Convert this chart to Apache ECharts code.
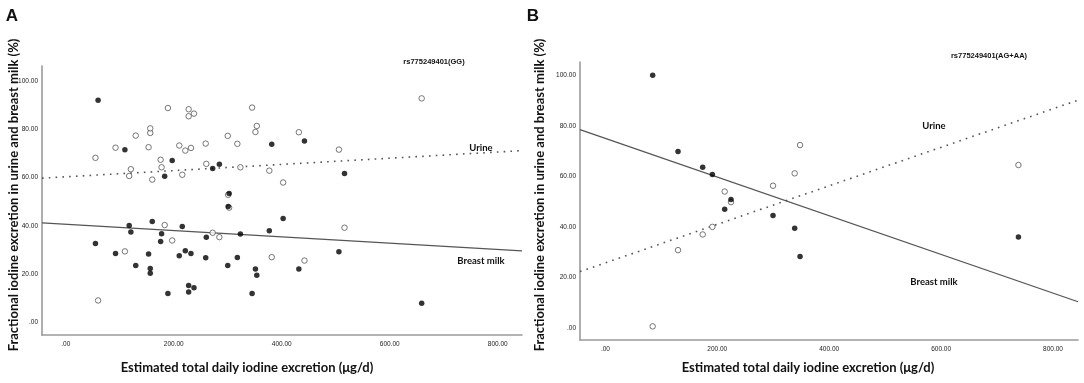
<!DOCTYPE html>
<html>
<head>
<meta charset="utf-8">
<script src="https://cdn.jsdelivr.net/npm/echarts@6/dist/echarts.min.js"></script>
<style>
  html, body { margin: 0; padding: 0; background: #fff; }
  #chart { width: 1084px; height: 383px; }
</style>
</head>
<body>
<div id="chart"></div>
<script>
// rs775249401(GG): one subject per index, same excretion for urine and milk
var ggExcretion = [55, 59.9, 92.2, 109.5, 117.5, 120.6, 129.6, 153.4, 156.5, 156.5,
  160.2, 175.7, 177.5, 183.2, 189.2, 197.1, 210.2, 215.8, 221.4, 227.6,
  227.6, 231.9, 237.5, 259.2, 260.3, 272.1, 284.5, 300, 300.8, 302.6,
  317.8, 323.4, 345.1, 351.3, 353.8, 377, 381.5, 402.6, 431.7, 442.1,
  505.9, 516.3, 659.2]
var ggMilk = [32.8, 92, 28.6, 71.5, 40.2, 37.5, 23.7, 28.4, 22.4, 20.5,
  41.9, 33.6, 36.8, 60.6, 12.1, 67.1, 27.7, 39.8, 29.8, 15.4,
  12.7, 28.6, 14.5, 26.9, 35.3, 63.8, 65.6, 23.7, 48.1, 53.4,
  27, 36.7, 12.1, 22.2, 19.6, 38, 73.8, 43.1, 22.2, 75.2,
  29.3, 61.7, 8]
var ggUrine = [68.2, 9.2, 72.4, 29.5, 60.7, 63.5, 77.4, 72.6, 78.5, 80.4,
  59.2, 67.4, 64.3, 40.4, 88.8, 34, 73.3, 61.2, 71.2, 85.4,
  88.3, 72.3, 86.5, 74.1, 65.7, 37.2, 35.4, 77.3, 52.9, 47.6,
  74, 64.3, 89, 78.9, 81.4, 62.9, 27.1, 58, 78.8, 25.7,
  71.6, 39.3, 92.8]

// rs775249401(AG+AA)
var agExcretion = [84.5, 129.8, 173.9, 191.2, 213.2, 224.5, 299.6, 338.3, 347.9, 738.2]
var agMilk = [100.1, 69.9, 63.6, 60.7, 47, 50.8, 44.5, 39.5, 28.3, 36]
var agUrine = [0.6, 30.8, 37, 40, 54, 49.8, 56.3, 61.2, 72.4, 64.5]

var xTicks = [0, 200, 400, 600, 800]
var yTicks = [0, 20, 40, 60, 80, 100]

var xTitle = 'Estimated total daily iodine excretion (μg/d)'
var yTitle = 'Fractional iodine excretion in urine and breast milk (%)'

var titleFont = 'Lato, "Open Sans", sans-serif'
var tickFont = '"Liberation Sans", Arial, sans-serif'

function pairs(xs, ys) {
  return xs.map(function(x, i) { return [x, ys[i]] })
}

// least squares fit line drawn across the whole x range
function fitLine(xs, ys, lo, hi) {
  var n = xs.length
  var mx = xs.reduce(function(a, b) { return a + b }, 0) / n
  var my = ys.reduce(function(a, b) { return a + b }, 0) / n
  var sxy = 0
  var sxx = 0
  for (var i = 0; i < n; i++) {
    sxy += (xs[i] - mx) * (ys[i] - my)
    sxx += (xs[i] - mx) * (xs[i] - mx)
  }
  var slope = sxy / sxx
  var b = my - slope * mx
  return [[lo, b + slope * lo], [hi, b + slope * hi]]
}

function fmt(v) {
  return v === 0 ? '.00' : v.toFixed(2)
}

var axisLine = { show: true, onZero: false, lineStyle: { color: '#9a9a9a', width: 1.6 } }

function xAxis(grid, min, max) {
  return {
    type: 'value', gridIndex: grid, min: min, max: max,
    axisLine: axisLine,
    axisTick: { show: false },
    splitLine: { show: false },
    axisLabel: {
      customValues: xTicks, formatter: fmt, margin: 6,
      fontFamily: tickFont, fontSize: 6.5, color: '#222'
    }
  }
}

function yAxis(grid, min, max) {
  return {
    type: 'value', gridIndex: grid, min: min, max: max,
    axisLine: axisLine,
    axisTick: { show: false },
    splitLine: { show: false },
    axisLabel: {
      customValues: yTicks, formatter: fmt, margin: 4,
      fontFamily: tickFont, fontSize: 6.5, color: '#222'
    }
  }
}

var openDot = { color: '#fff', borderColor: '#555', borderWidth: 1 }
var fullDot = { color: '#000' }

function scatter(idx, xs, ys, style, z) {
  return {
    type: 'scatter', xAxisIndex: idx, yAxisIndex: idx,
    data: pairs(xs, ys), symbol: 'circle', symbolSize: 5.5,
    itemStyle: style, z: z
  }
}

function line(idx, xs, ys, lo, hi, dotted) {
  return {
    type: 'line', xAxisIndex: idx, yAxisIndex: idx,
    data: fitLine(xs, ys, lo, hi), showSymbol: false, z: 1,
    lineStyle: dotted
      ? { color: '#555', width: 1.6, type: [1.6, 5.2] }
      : { color: '#555', width: 1.3 }
  }
}

function text(x, y, str, size, weight, family, rotation) {
  return {
    type: 'text', x: x, y: y, rotation: rotation || 0,
    style: {
      text: str, fontSize: size, fontWeight: weight, fontFamily: family,
      fill: '#111', align: 'center', verticalAlign: 'middle'
    }
  }
}

var aMin = -44, aMax = 845
var bMin = -45.4, bMax = 844.7

var chart = echarts.init(document.getElementById('chart'))
chart.setOption({
  animation: false,
  grid: [
    { left: 42, top: 66, width: 480, height: 269 },
    { left: 580, top: 62, width: 498, height: 278 }
  ],
  xAxis: [xAxis(0, aMin, aMax), xAxis(1, bMin, bMax)],
  yAxis: [yAxis(0, -5.1, 106.2), yAxis(1, -4.8, 105.3)],
  series: [
    line(0, ggExcretion, ggUrine, aMin, aMax, true),
    line(0, ggExcretion, ggMilk, aMin, aMax, false),
    scatter(0, ggExcretion, ggUrine, openDot, 2),
    scatter(0, ggExcretion, ggMilk, fullDot, 3),
    line(1, agExcretion, agUrine, bMin, bMax, true),
    line(1, agExcretion, agMilk, bMin, bMax, false),
    scatter(1, agExcretion, agUrine, openDot, 2),
    scatter(1, agExcretion, agMilk, fullDot, 3)
  ],
  graphic: [
    text(12, 16, 'A', 17, 'bold', 'Arial, "Liberation Sans", sans-serif'),
    text(533, 16, 'B', 17, 'bold', 'Arial, "Liberation Sans", sans-serif'),
    text(14, 195, yTitle, 13, 'bold', titleFont, Math.PI / 2),
    text(540, 195, yTitle, 13, 'bold', titleFont, Math.PI / 2),
    text(247, 368, xTitle, 13, 'bold', titleFont),
    text(808, 368, xTitle, 13, 'bold', titleFont),
    text(434, 62, 'rs775249401(GG)', 7.5, 'bold', tickFont),
    text(989, 56, 'rs775249401(AG+AA)', 7.5, 'bold', tickFont),
    text(481, 148, 'Urine', 9.5, 'bold', titleFont),
    text(481, 261, 'Breast milk', 9.5, 'bold', titleFont),
    text(934, 126, 'Urine', 9.5, 'bold', titleFont),
    text(934, 282, 'Breast milk', 9.5, 'bold', titleFont)
  ]
})
</script>
</body>
</html>
